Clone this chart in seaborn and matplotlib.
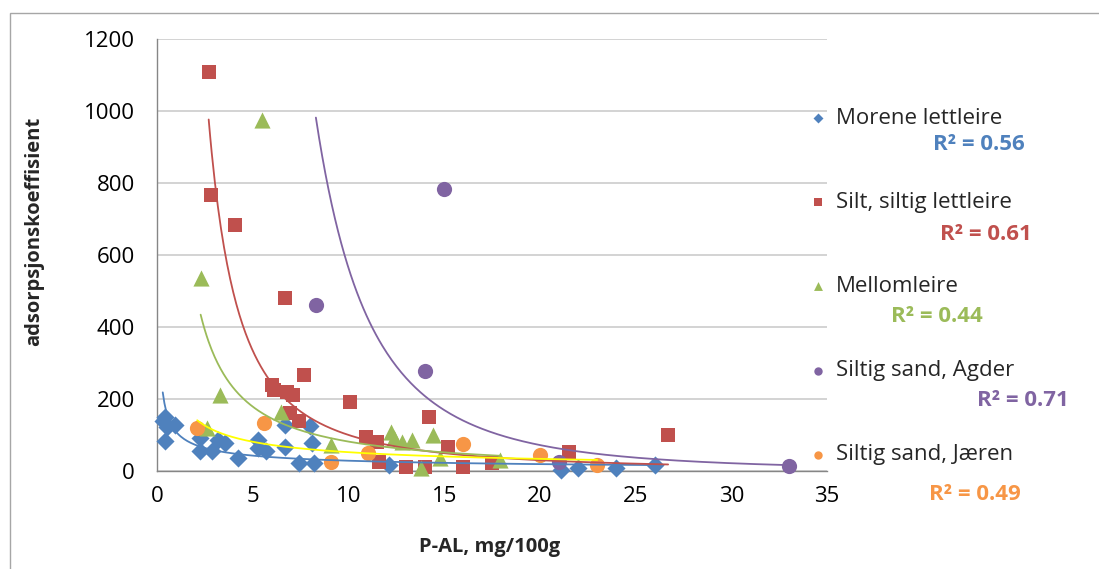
import numpy as np
import pandas as pd
import matplotlib
matplotlib.use("Agg")
import matplotlib.pyplot as plt
import seaborn as sns
from matplotlib.patches import Rectangle

# ---------------- data ----------------
series = ["Morene lettleire", "Silt, siltig lettleire", "Mellomleire",
          "Siltig sand, Agder", "Siltig sand, Jæren"]

morene_x = [0.4, 0.3, 0.5, 0.95, 0.4, 2.25, 2.25, 2.85, 3.2, 3.55, 4.25, 5.3, 5.3, 5.7,
            6.7, 6.7, 7.4, 8.0, 8.1, 8.2, 12.1, 21.1, 22.0, 24.0, 26.0]
morene_y = [150, 138, 123, 128, 82, 92, 55, 55, 86, 77, 36, 86, 64, 55,
            128, 68, 22, 125, 77, 22, 17, 3, 8, 8, 17]

silt_x = [2.7, 2.8, 4.1, 6.7, 6.0, 6.1, 6.8, 7.1, 7.7, 6.95, 7.4, 10.1, 10.9, 11.5,
          11.6, 13.0, 14.0, 14.2, 15.2, 16.0, 17.5, 21.5, 26.7]
silt_y = [1108, 768, 683, 480, 240, 225, 220, 212, 268, 160, 140, 193, 95, 81,
          26, 12, 12, 150, 68, 12, 22, 54, 100]

mellom_x = [2.28, 2.6, 3.3, 5.47, 6.5, 9.1, 12.2, 12.4, 12.8, 13.3, 13.8, 14.4, 14.8, 17.9]
mellom_y = [536, 120, 211, 975, 165, 72, 109, 92, 81, 86, 8, 100, 36, 30]

agder_x = [8.3, 14.0, 15.0, 21.0, 33.0]
agder_y = [461, 278, 783, 25, 14]

jaeren_x = [2.1, 5.6, 9.1, 11.0, 16.0, 20.0, 23.0]
jaeren_y = [120, 133, 26, 50, 75, 44, 17]

r2_labels = ["R² = 0.56", "R² = 0.61", "R² = 0.44", "R² = 0.71", "R² = 0.49"]

x_ticks = [0, 5, 10, 15, 20, 25, 30, 35]
y_ticks = [0, 200, 400, 600, 800, 1000, 1200]

# ---------------- styles ----------------
colors = ["#4F81BD", "#C0504D", "#9BBB59", "#8064A2", "#F79646"]
trend_colors = ["#4F81BD", "#C0504D", "#9BBB59", "#8064A2", "#FFFF00"]
markers = ["D", "s", "^", "o", "o"]
msizes = [85, 110, 135, 120, 120]

sns.set_style("white")
plt.rcParams["font.family"] = ["Open Sans", "DejaVu Sans"]

xs_all = [morene_x, silt_x, mellom_x, agder_x, jaeren_x]
ys_all = [morene_y, silt_y, mellom_y, agder_y, jaeren_y]
df = pd.concat([pd.DataFrame({"x": xv, "y": yv, "series": s})
                for s, xv, yv in zip(series, xs_all, ys_all)], ignore_index=True)

W, H = 1099, 569
fig = plt.figure(figsize=(W / 100, H / 100), dpi=100)
ax = fig.add_axes([157 / W, 1 - 471 / H, 670 / W, 432 / H])

for s, c, m, sz in zip(series, colors, markers, msizes):
    sub = df[df["series"] == s]
    sns.scatterplot(data=sub, x="x", y="y", color=c, marker=m, s=sz,
                    linewidth=0, ax=ax, label=s, zorder=3, clip_on=False)

# power trend lines (least squares in log-log space, like Excel)
for s, tc in zip(series, trend_colors):
    sub = df[df["series"] == s]
    b, ln_a = np.polyfit(np.log(sub["x"]), np.log(sub["y"]), 1)
    xt = np.linspace(sub["x"].min(), sub["x"].max(), 300)
    sns.lineplot(x=xt, y=np.exp(ln_a) * xt ** b, color=tc, lw=1.3, ax=ax,
                 zorder=4, legend=False)

ax.set_xlim(0, 35)
ax.set_ylim(0, 1200)
ax.set_xticks(x_ticks)
ax.set_yticks(y_ticks)
ax.yaxis.grid(True, color="#D0D0D0", lw=1.3)
ax.xaxis.grid(False)
ax.set_axisbelow(True)
for sp in ["top", "right"]:
    ax.spines[sp].set_visible(False)
for sp in ["left", "bottom"]:
    ax.spines[sp].set_color("#868686")
    ax.spines[sp].set_linewidth(1.0)
ax.tick_params(axis="both", direction="out", length=5, width=1,
               color="#868686", labelsize=16, labelcolor="#000000")
ax.tick_params(axis="y", pad=11)
ax.tick_params(axis="x", pad=6)

ax.set_xlabel("P-AL, mg/100g", fontsize=14.5, fontweight="bold")
ax.set_ylabel("adsorpsjonskoeffisient", fontsize=14.5, fontweight="bold")
ax.xaxis.set_label_coords((490 - 157) / 670, (471 - 537) / 432)
ax.yaxis.set_label_coords((44 - 157) / 670, (471 - 231) / 432)

handles, labels = ax.get_legend_handles_labels()
leg = ax.legend(handles[:5], labels[:5], loc="upper left",
                bbox_to_anchor=(809 / W, 1 - 108 / H), bbox_transform=fig.transFigure,
                frameon=False, fontsize=16, labelspacing=2.84, handletextpad=0.4,
                handlelength=0.8, markerscale=0.55, borderpad=0, borderaxespad=0)

r2_pos = [(979, 144), (986, 235), (937, 317), (1023, 400), (975, 494)]
for lab, (px, py), c in zip(r2_labels, r2_pos, colors):
    fig.text(px / W, 1 - py / H, lab, color=c, fontsize=16, fontweight="bold",
             ha="center", va="center")

fig.patches.append(Rectangle((10 / W, -0.2), 1.2, 1 - 13 / H + 0.2,
                             transform=fig.transFigure, fill=False,
                             edgecolor="#A6A6A6", lw=1.0))

fig.savefig("out.png", dpi=100)
